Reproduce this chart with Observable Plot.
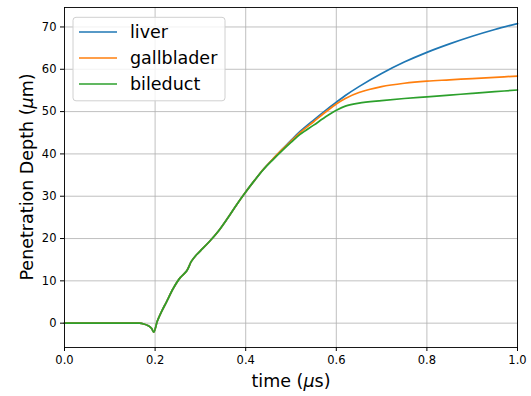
<!DOCTYPE html>
<html><head><meta charset="utf-8">
<script src="https://cdn.jsdelivr.net/npm/d3@7"></script>
<script src="https://cdn.jsdelivr.net/npm/@observablehq/plot@0.6"></script>
<style>body{margin:0;background:#fff;}</style>
</head><body><div id="chart"></div>
<script>
const time = [0, 0.05, 0.1, 0.15, 0.165, 0.175, 0.185, 0.192, 0.197, 0.205, 0.215, 0.225, 0.24, 0.255, 0.27, 0.28, 0.29, 0.3, 0.32, 0.34, 0.36, 0.38, 0.4, 0.42, 0.44, 0.46, 0.48, 0.5, 0.52, 0.55, 0.58, 0.6, 0.62, 0.65, 0.7, 0.75, 0.8, 0.85, 0.9, 0.95, 1.0];
const liver =       [0, 0, 0, 0, 0, -0.2, -0.6, -1.2, -2.1, 0.5, 2.9, 5.0, 8.2, 10.7, 12.4, 14.6, 16.0, 17.1, 19.3, 21.8, 24.8, 28.0, 31.0, 33.8, 36.5, 38.8, 41.0, 43.2, 45.3, 48.0, 50.6, 52.2, 53.8, 55.9, 59.0, 61.7, 64.0, 66.0, 67.8, 69.4, 70.8];
const gallblader =  [0, 0, 0, 0, 0, -0.2, -0.6, -1.2, -2.1, 0.5, 2.9, 5.0, 8.2, 10.7, 12.4, 14.6, 16.0, 17.1, 19.3, 21.8, 24.8, 28.0, 31.0, 33.8, 36.5, 38.8, 41.0, 43.0, 45.0, 47.6, 50.2, 51.8, 53.1, 54.5, 55.9, 56.7, 57.2, 57.5, 57.8, 58.1, 58.4];
const bileduct =    [0, 0, 0, 0, 0, -0.2, -0.6, -1.2, -2.1, 0.5, 2.9, 5.0, 8.2, 10.7, 12.4, 14.6, 16.0, 17.1, 19.3, 21.8, 24.8, 28.0, 31.0, 33.8, 36.4, 38.6, 40.7, 42.7, 44.6, 46.8, 49.0, 50.3, 51.3, 52.0, 52.6, 53.1, 53.5, 53.9, 54.3, 54.7, 55.1];
const seriesNames = ["liver", "gallblader", "bileduct"];
const seriesColors = ["#1f77b4", "#ff7f0e", "#2ca02c"];
const xTicks = [0, 0.2, 0.4, 0.6, 0.8, 1.0];
const yTicks = [0, 10, 20, 30, 40, 50, 60, 70];

const rows = [];
[liver, gallblader, bileduct].forEach((vals, i) =>
  vals.forEach((v, j) => rows.push({series: seriesNames[i], t: time[j], v})));

const plot = Plot.plot({
  width: 531, height: 396,
  marginLeft: 64, marginRight: 14, marginTop: 7, marginBottom: 49,
  style: {fontFamily: "DejaVu Sans", fontSize: "11.5px", color: "#000", background: "#fff"},
  x: {domain: [0, 1]},
  y: {domain: [-5.75, 74.6]},
  color: {domain: seriesNames, range: seriesColors},
  marks: [
    Plot.gridX(xTicks, {stroke: "#b0b0b0", strokeOpacity: 0.8, strokeWidth: 1}),
    Plot.gridY(yTicks, {stroke: "#b0b0b0", strokeOpacity: 0.8, strokeWidth: 1}),
    Plot.lineY(rows, {x: "t", y: "v", stroke: "series", strokeWidth: 1.7, curve: "catmull-rom"}),
    Plot.frame({stroke: "#000", strokeWidth: 0.9}),
    Plot.axisX(xTicks, {tickFormat: d => d.toFixed(1), tickSize: 4, tickPadding: 4, label: null, stroke: "#000"}),
    Plot.axisY(yTicks, {tickSize: 4, tickPadding: 4, label: null, stroke: "#000"})
  ]
});
document.getElementById("chart").appendChild(plot);

const svg = d3.select(plot);
// x label
const xl = svg.append("text").attr("x", 291).attr("y", 387).attr("text-anchor", "middle")
  .attr("font-size", 17.5).attr("fill", "#000");
xl.append("tspan").text("time (");
xl.append("tspan").attr("font-style", "italic").text("μ");
xl.append("tspan").text("s)");
// y label
const yl = svg.append("text").attr("transform", "translate(32.5,177) rotate(-90)").attr("text-anchor", "middle")
  .attr("font-size", 17.5).attr("fill", "#000");
yl.append("tspan").text("Penetration Depth (");
yl.append("tspan").attr("font-style", "italic").text("μ");
yl.append("tspan").text("m)");
// legend
const lg = svg.append("g");
lg.append("rect").attr("x", 73).attr("y", 17.3).attr("width", 152).attr("height", 83.5).attr("rx", 3)
  .attr("fill", "#fff").attr("fill-opacity", 0.8).attr("stroke", "#d0d0d0").attr("stroke-width", 1);
seriesNames.forEach((name, i) => {
  const y = 32 + i * 26;
  lg.append("line").attr("x1", 79).attr("x2", 117).attr("y1", y).attr("y2", y)
    .attr("stroke", seriesColors[i]).attr("stroke-width", 1.7);
  lg.append("text").attr("x", 130).attr("y", y).attr("dy", "0.35em").attr("font-size", 17.5)
    .attr("text-anchor", "start").attr("fill", "#000").text(name);
});
</script>
</body></html>
